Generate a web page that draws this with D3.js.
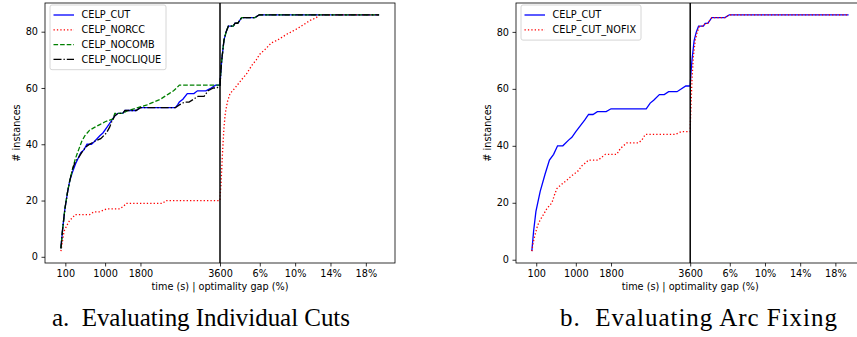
<!DOCTYPE html>
<html>
<head>
<meta charset="utf-8">
<script src="https://cdn.jsdelivr.net/npm/d3@7"></script>
<style>
  html, body { margin: 0; padding: 0; background: #fff; }
  svg { display: block; }
  .tick text { font-family: 'DejaVu Sans', sans-serif; font-size: 9.7px; fill: #000; }
  .lbl { font-family: 'DejaVu Sans', sans-serif; font-size: 9.7px; fill: #000; }
  .caption { font-family: 'Liberation Serif', serif; font-size: 25px; fill: #000; white-space: pre; }
</style>
</head>
<body>
<div id="chart"></div>
<script>
// ticks on the combined axis: seconds up to 3600, then optimality gap in %
const timeTicks = [100, 1000, 1800, 3600]
const gapTicks = [6, 10, 14, 18]
const yTicks = [0, 20, 40, 60, 80]
const gapOrigin = 1.5   // gap (%) that sits on the 3600 s line
const gapStep = 200     // axis units per gap percent

// panel a: [time s, #instances] then [gap %, #instances]
const cutTime = [[0,3],[40,10],[90,17],[150,23],[200,27],[260,30],[330,33],[390,35],[450,37],[520,38],[590,40],[690,40],[760,41],[880,43],[950,44],[1040,46],[1130,48],[1210,50],[1290,51],[1400,51],[1450,52],[1700,52],[1800,53],[2590,53],[2640,54],[2680,55],[2760,56],[2860,58],[3010,58],[3090,59],[3280,59],[3400,60],[3500,61],[3600,61]]
const cutGap = [[1.5,61],[1.6,66],[1.7,70],[1.95,77],[2.2,80],[2.45,82],[3.0,82],[3.2,83],[3.5,83],[3.95,85],[5.45,85],[5.95,86],[19.5,86]]
const norccTime = [[0,2],[30,5],[70,9],[130,11],[200,13],[270,14],[320,15],[650,15],[750,16],[880,16],[1030,17],[1330,17],[1420,18],[1480,19],[2300,19],[2380,20],[3600,20]]
const norccGap = [[1.5,21],[1.6,25],[1.8,38],[1.95,46],[2.1,51],[2.33,55],[2.63,58],[3.2,60],[3.95,63],[4.5,65],[5.1,68],[5.6,70],[6.0,72],[6.7,74],[7.3,76],[8.0,77],[8.5,78],[9.0,79],[9.6,80],[10.2,81],[10.7,82],[11.2,83],[11.7,84],[12.4,85],[12.7,86],[19.5,86]]
const nocombTime = [[0,3],[40,10],[90,17],[150,23],[200,27],[260,31],[330,35],[400,38],[470,41],[540,43],[650,45],[760,46],[880,47],[1000,48],[1180,49],[1220,51],[1400,51],[1515,52],[1740,53],[1950,54],[2100,55],[2250,56],[2350,57],[2450,58],[2550,59],[2620,60],[2680,61],[3600,61]]
const nocombGap = cutGap
const nocliqueTime = [[0,3],[40,10],[90,17],[150,23],[200,27],[260,31],[330,34],[390,35],[470,37],[560,39],[650,40],[760,41],[900,42],[1030,44],[1100,46],[1150,48],[1215,50],[1290,51],[1400,51],[1450,52],[1700,52],[1800,53],[2590,53],[2680,54],[2800,55],[2900,55],[3000,56],[3100,57],[3240,57],[3330,59],[3450,60],[3530,60],[3600,61]]
const nocliqueGap = cutGap

// panel b
const cutTimeB = [[0,3],[40,10],[93,17],[190,24],[300,30],[400,35],[495,37],[585,40],[705,40],[835,42],[910,43],[1000,45],[1100,47],[1200,49],[1290,51],[1390,51],[1490,52],[1690,52],[1800,53],[2600,53],[2690,55],[2770,56],[2900,58],[3010,58],[3110,59],[3300,59],[3500,61],[3600,61]]
const cutGapB = cutGap
const nofixTime = [[0,3],[30,6],[77,9],[130,12],[190,14],[270,16],[343,18],[400,19],[457,20],[520,23],[570,25],[640,26],[720,27],[800,28],[870,29],[950,30],[1040,31],[1140,33],[1220,34],[1290,35],[1510,35],[1590,36],[1670,37],[1930,37],[2010,39],[2080,40],[2160,41],[2420,41],[2500,42],[2580,44],[3260,44],[3400,45],[3600,45]]
const nofixGap = [[1.5,46],[1.6,55],[1.7,63],[1.85,71],[2.07,77],[2.3,80],[2.56,82],[3.0,82],[3.2,83],[3.5,83],[3.95,85],[5.45,85],[5.95,86],[19.5,86]]

const styles = {
  solid:   { color: '#0000ff', dash: null },
  dotted:  { color: '#ff0000', dash: '1.3,2.1' },
  dashed:  { color: '#008000', dash: '4.6,2' },
  dashdot: { color: '#000000', dash: '8,2,1.3,2' }
}

const panels = [
  {
    left: 45, right: 395, top: 3, bottom: 263, yDomain: [-2.2, 90.2],
    ylabelX: 17, caption: 'a.  Evaluating Individual Cuts', captionX: 52, captionW: 298,
    legend: { x: 50, y: 5, w: 116 },
    series: [
      { name: 'CELP_CUT', time: cutTime, gap: cutGap, style: 'solid' },
      { name: 'CELP_NORCC', time: norccTime, gap: norccGap, style: 'dotted' },
      { name: 'CELP_NOCOMB', time: nocombTime, gap: nocombGap, style: 'dashed' },
      { name: 'CELP_NOCLIQUE', time: nocliqueTime, gap: nocliqueGap, style: 'dashdot' }
    ]
  },
  {
    left: 516, right: 864.4, top: 3, bottom: 263, yDomain: [-1.15, 90.15],
    ylabelX: 488, caption: 'b.  Evaluating Arc Fixing', captionX: 560, captionW: 277,
    legend: { x: 521, y: 5, w: 120 },
    series: [
      { name: 'CELP_CUT', time: cutTimeB, gap: cutGapB, style: 'solid' },
      { name: 'CELP_CUT_NOFIX', time: nofixTime, gap: nofixGap, style: 'dotted' }
    ]
  }
]

const gapToValue = g => 3600 + (g - gapOrigin) * gapStep

const svg = d3.select('#chart').append('svg')
  .attr('width', 857)
  .attr('height', 337)

function drawPanel(p) {
  const x = d3.scaleLinear().domain([-360, 7560]).range([p.left, p.right])
  const y = d3.scaleLinear().domain(p.yDomain).range([p.bottom, p.top])
  const g = svg.append('g')

  const tickVals = timeTicks.concat(gapTicks.map(gapToValue))
  const tickLabels = timeTicks.map(String).concat(gapTicks.map(d => d + '%'))

  g.append('g')
    .attr('transform', `translate(0,${p.bottom})`)
    .call(d3.axisBottom(x).tickValues(tickVals)
      .tickFormat((d, i) => tickLabels[i])
      .tickSize(3.5).tickPadding(3.5))
    .call(a => a.select('.domain').remove())

  g.append('g')
    .attr('transform', `translate(${p.left},0)`)
    .call(d3.axisLeft(y).tickValues(yTicks).tickSize(3.5).tickPadding(3.5))
    .call(a => a.select('.domain').remove())

  g.selectAll('.tick line').attr('stroke', '#000').attr('stroke-width', 0.8)

  const line = d3.line().x(d => x(d[0])).y(d => y(d[1]))

  p.series.forEach(s => {
    const pts = s.time.concat(s.gap.map(d => [gapToValue(d[0]), d[1]]))
    const st = styles[s.style]
    g.append('path')
      .datum(pts)
      .attr('d', line)
      .attr('fill', 'none')
      .attr('stroke', st.color)
      .attr('stroke-width', 1.3)
      .attr('stroke-dasharray', st.dash)
  })

  // 3600 s divider
  g.append('line')
    .attr('x1', x(3600)).attr('x2', x(3600))
    .attr('y1', p.top).attr('y2', p.bottom)
    .attr('stroke', '#000').attr('stroke-width', 1.5)

  // frame
  g.append('rect')
    .attr('x', p.left).attr('y', p.top)
    .attr('width', p.right - p.left).attr('height', p.bottom - p.top)
    .attr('fill', 'none').attr('stroke', '#000').attr('stroke-width', 0.8)

  // axis labels
  g.append('text').attr('class', 'lbl')
    .attr('x', (p.left + p.right) / 2).attr('y', 290)
    .attr('text-anchor', 'middle')
    .text('time (s) | optimality gap (%)')

  g.append('text').attr('class', 'lbl')
    .attr('transform', `translate(${p.ylabelX},${(p.top + p.bottom) / 2}) rotate(-90)`)
    .attr('text-anchor', 'middle')
    .attr('dy', '0.35em')
    .text('# instances')

  // legend
  const lg = g.append('g').attr('transform', `translate(${p.legend.x},${p.legend.y})`)
  const rowH = 14.8
  lg.append('rect')
    .attr('width', p.legend.w).attr('height', p.series.length * rowH + 5.5)
    .attr('rx', 2)
    .attr('fill', '#fff').attr('fill-opacity', 0.8)
    .attr('stroke', '#cccccc').attr('stroke-width', 0.8)

  const item = lg.selectAll('.item').data(p.series).join('g')
    .attr('transform', (d, i) => `translate(0,${10 + i * rowH})`)
  item.append('line')
    .attr('x1', 3.5).attr('x2', 24)
    .attr('stroke', d => styles[d.style].color)
    .attr('stroke-width', 1.3)
    .attr('stroke-dasharray', d => styles[d.style].dash)
  item.append('text').attr('class', 'lbl')
    .attr('x', 31.5).attr('dy', '0.35em')
    .text(d => d.name)

  svg.append('text').attr('class', 'caption')
    .attr('x', p.captionX).attr('y', 326)
    .attr('textLength', p.captionW)
    .attr('lengthAdjust', 'spacing')
    .text(p.caption)
}

panels.forEach(drawPanel)
</script>
</body>
</html>
